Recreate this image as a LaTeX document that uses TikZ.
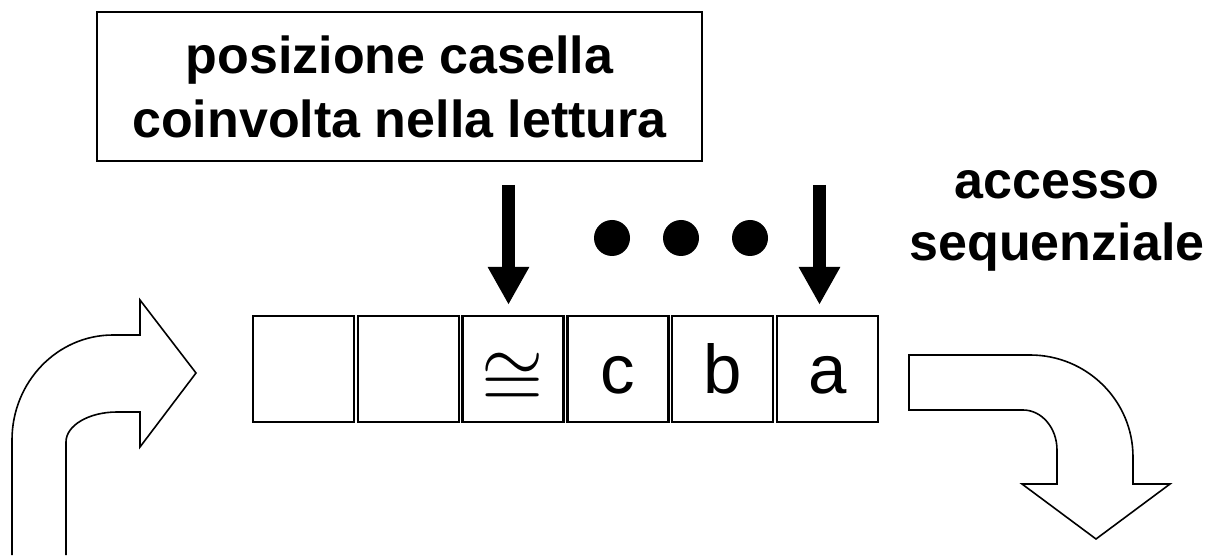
\documentclass[tikz,border=0pt]{standalone}
\usepackage{fontspec}
\setmainfont{Liberation Sans}
\usepackage{amssymb}
\usepackage{graphicx}
\usetikzlibrary{arrows.meta}

\begin{document}
\begin{tikzpicture}[x=1pt,y=1pt,
  cell/.style={draw,line width=2.4pt,minimum width=101pt,minimum height=106pt,inner sep=0pt,
    text height=49pt,text depth=0pt,font=\fontsize{69}{72}\selectfont},
  heading/.style={font=\bfseries\fontsize{52}{64}\selectfont,align=center},
  pointer/.style={line width=13pt,-{Triangle[length=38pt,width=39pt]}},
  bent/.style={line width=1.6pt,line join=miter}]
\useasboundingbox (0,0) rectangle (1216,555);
\node[heading,draw,line width=2pt,minimum width=605pt,minimum height=149pt,inner sep=0pt] (pos) at (399.5,468.5) {posizione casella\\coinvolta nella lettura};
\node[heading,font=\bfseries\fontsize{52}{62}\selectfont] (seq) at (1057,334) {accesso\\sequenziale};
\node[cell] (c1) at (303.5,186) {};
\node[cell] (c2) at (408.3,186) {};
\node[cell] (c3) at (513.1,186) {\fontsize{10}{12}\selectfont\raisebox{-10pt}{\scalebox{8}{$\cong$}}};
\node[cell] (c4) at (617.9,186) {c};
\node[cell] (c5) at (722.7,186) {b};
\node[cell] (c6) at (827.5,186) {a};
\fill (612,317) circle[radius=18pt];
\fill (681,317) circle[radius=18pt];
\fill (750,317) circle[radius=18pt];
\coordinate (top3) at (508.5,370);
\coordinate (top6) at (819.5,370);
\coordinate (in3) at ([yshift=10pt]c3.north);
\coordinate (in6) at ([yshift=10pt]c6.north);
\draw[pointer] (top3) -- (top3 |- in3);
\draw[pointer] (top6) -- (top6 |- in6);
\draw[bent] (12,0) -- (12,115) arc[start angle=180,end angle=90,x radius=101pt,y radius=105pt]
  -- (140,220) -- (140,255) -- (196,182) -- (140,108) -- (140,143) -- (117,143)
  arc[start angle=90,end angle=180,x radius=51pt,y radius=30pt] -- (66,0);
\draw[bent] (909,200) -- (1030,200) arc[start angle=90,end angle=0,x radius=103pt,y radius=102pt]
  -- (1133,71) -- (1170,71) -- (1096,16) -- (1022,71) -- (1057,71) -- (1057,105)
  arc[start angle=0,end angle=90,x radius=34pt,y radius=40pt] -- (909,145) -- cycle;
\end{tikzpicture}
\end{document}
